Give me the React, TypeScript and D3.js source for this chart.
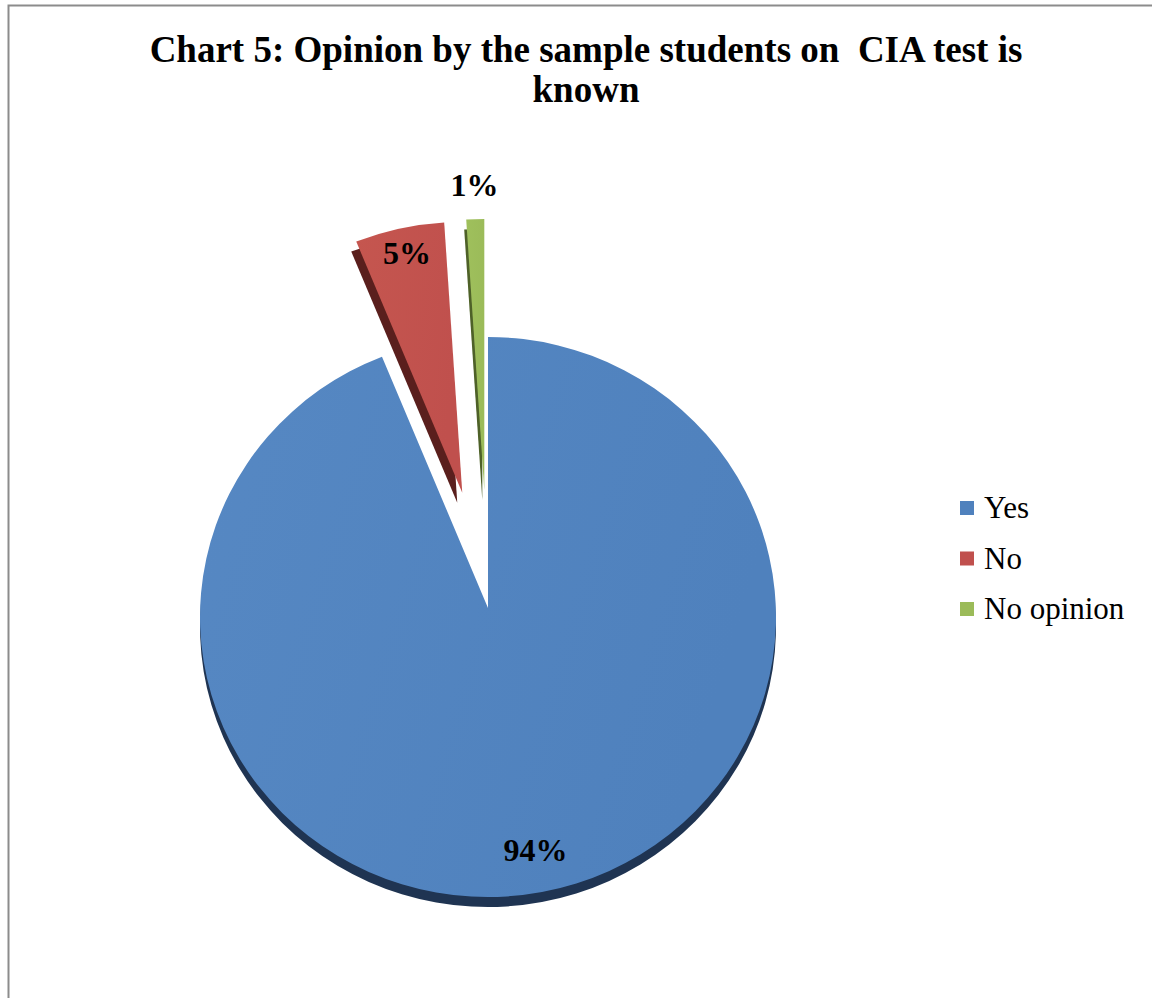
import React, { useEffect, useRef } from "react";
import * as d3 from "d3";

// chart data
const categories = ["Yes", "No", "No opinion"];
const shares = [94, 5, 1];
const sliceLabels = ["94%", "5%", "1%"];
const titleLines = ["Chart 5: Opinion by the sample students on  CIA test is", "known"];

// styling
const fills = ["#4f81bd", "#c0504d", "#9bbb59"];
const lightFills = ["#5688c3", "#c5564f", "#9fc05c"];
const sideFills = ["#1f3452", "#5a1f1d", "#4e6128"];
const explode = [0, 118, 118];
const sideShift = [0, -5, -2];
const FONT = "'Liberation Serif', 'Times New Roman', serif";

const W = 1152;
const H = 998;

const App: React.FC = () => {
  const svgRef = useRef<SVGSVGElement | null>(null);

  useEffect(() => {
    const svg = d3.select(svgRef.current);
    svg.selectAll("*").remove();

    // pie geometry (slightly tilted ellipse, apex above ellipse centre)
    const cx = 488;
    const cy = 608;
    const rx = 288;
    const ry = 280;
    const tilt = 9;
    const depth = 10;

    const pie = d3
      .pie<number>()
      .value((d) => d)
      .sort(null)
      .startAngle(0)
      .endAngle(2 * Math.PI);
    const arcs = pie(shares);

    const pt = (ax: number, ay: number, a: number) => [
      ax + rx * Math.sin(a),
      ay + tilt - ry * Math.cos(a),
    ];

    const slicePath = (d: d3.PieArcDatum<number>, ax: number, ay: number) => {
      const p0 = pt(ax, ay, d.startAngle);
      const p1 = pt(ax, ay, d.endAngle);
      const large = d.endAngle - d.startAngle > Math.PI ? 1 : 0;
      return `M${ax},${ay}L${p0[0]},${p0[1]}A${rx},${ry} 0 ${large} 1 ${p1[0]},${p1[1]}Z`;
    };

    const apex = (d: d3.PieArcDatum<number>, i: number) => {
      const mid = (d.startAngle + d.endAngle) / 2;
      return [cx + explode[i] * Math.sin(mid), cy - explode[i] * Math.cos(mid)];
    };

    // gradients
    const defs = svg.append("defs");
    fills.forEach((c, i) => {
      const g = defs
        .append("linearGradient")
        .attr("id", `grad${i}`)
        .attr("x1", "0")
        .attr("y1", "0")
        .attr("x2", "1")
        .attr("y2", "0.3");
      g.append("stop").attr("offset", "0%").attr("stop-color", lightFills[i]);
      g.append("stop").attr("offset", "100%").attr("stop-color", c);
    });

    // frame
    svg
      .append("path")
      .attr("d", `M8.5,${H}V5.5H${W}`)
      .attr("fill", "none")
      .attr("stroke", "#8c8c8c")
      .attr("stroke-width", 2);

    // title
    svg
      .append("text")
      .attr("text-anchor", "middle")
      .style("font-family", FONT)
      .style("font-weight", "bold")
      .style("font-size", "37px")
      .style("white-space", "pre")
      .selectAll("tspan")
      .data(titleLines)
      .join("tspan")
      .attr("x", 586)
      .attr("y", (_, i) => 62 + i * 40)
      .text((d) => d);

    const g = svg.append("g");

    // side faces (depth); exploded slices show their left side too
    arcs.forEach((d, i) => {
      const [ax, ay] = apex(d, i);
      g.append("path")
        .attr("d", slicePath(d, ax, ay + depth))
        .attr("transform", `translate(${sideShift[i]},0)`)
        .attr("fill", sideFills[i]);
    });

    // top faces
    arcs.forEach((d, i) => {
      const [ax, ay] = apex(d, i);
      g.append("path")
        .attr("d", slicePath(d, ax, ay))
        .attr("fill", `url(#grad${i})`);
    });

    // labels
    arcs.forEach((d, i) => {
      const [ax, ay] = apex(d, i);
      const mid = (d.startAngle + d.endAngle) / 2;
      const f = d.endAngle - d.startAngle < 0.1 ? 1.09 : 0.88;
      g.append("text")
        .attr("x", ax + f * rx * Math.sin(mid))
        .attr("y", ay - f * ry * Math.cos(mid))
        .attr("dy", "0.35em")
        .attr("text-anchor", "middle")
        .style("font-family", FONT)
        .style("font-weight", "bold")
        .style("font-size", "32px")
        .attr("fill", "#000")
        .text(sliceLabels[i]);
    });

    // legend
    const legend = svg.append("g").attr("transform", "translate(960, 508)");
    legend
      .selectAll("g")
      .data(categories)
      .join("g")
      .attr("transform", (_, i) => `translate(0, ${i * 50.5})`)
      .each(function (d, i) {
        const item = d3.select(this);
        item
          .append("rect")
          .attr("x", 0)
          .attr("y", -7)
          .attr("width", 14)
          .attr("height", 14)
          .attr("fill", fills[i]);
        item
          .append("text")
          .attr("x", 24)
          .attr("y", 10)
          .style("font-family", FONT)
          .style("font-size", "31px")
          .attr("fill", "#000")
          .text(d);
      });
  }, []);

  return (
    <svg
      ref={svgRef}
      width={W}
      height={H}
      style={{ position: "absolute", left: 0, top: 0, background: "#fff" }}
    />
  );
};

export default App;
